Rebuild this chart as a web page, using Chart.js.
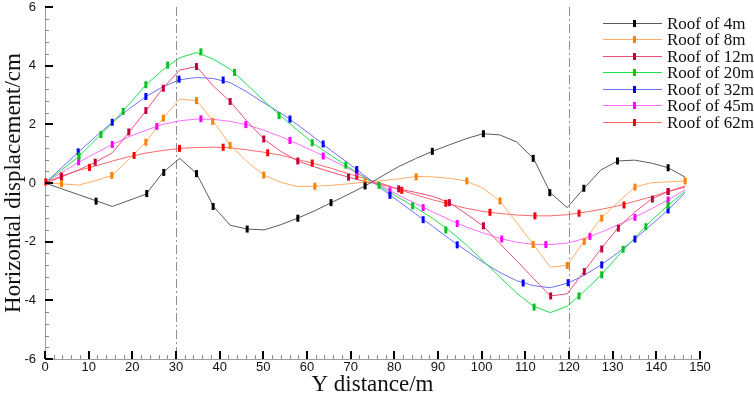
<!DOCTYPE html>
<html lang="en">
<head>
<meta charset="utf-8">
<title>Horizontal displacement</title>
<script src="https://cdn.jsdelivr.net/npm/chart.js"></script>
<style>
  html, body { margin: 0; padding: 0; background: #fff; }
  #wrap { position: relative; width: 754px; height: 399px; }
</style>
</head>
<body>
<div id="wrap"><canvas id="chart"></canvas></div>
<script>
// measuring points along the Y direction (m)
const xPos = [0, 3.86, 7.72, 11.57, 15.43, 19.29, 23.15, 27.0, 30.86, 34.72, 38.58, 42.43, 46.29,
  50.15, 54.0, 57.86, 61.72, 65.58, 69.43, 73.29, 77.15, 81.0, 84.86, 88.72, 92.58, 96.43,
  100.29, 104.15, 108.0, 111.86, 115.72, 119.58, 123.43, 127.29, 131.15, 135.0, 138.86, 142.72, 146.58];

// horizontal displacement (cm) for each roof thickness
const roof4 = [0, -0.2, -0.4, -0.6, -0.8, -0.59, -0.38, 0.36, 0.84, 0.32, -0.8, -1.44, -1.57,
  -1.6, -1.42, -1.2, -0.95, -0.67, -0.39, -0.1, 0.23, 0.56, 0.83, 1.08, 1.3, 1.51,
  1.68, 1.64, 1.4, 0.84, -0.33, -0.84, -0.18, 0.44, 0.75, 0.78, 0.68, 0.52, 0.2];
const roof8 = [0, -0.03, -0.07, 0.08, 0.26, 0.82, 1.39, 2.21, 2.86, 2.81, 2.1, 1.28, 0.72,
  0.27, 0.02, -0.12, -0.11, -0.08, -0.03, 0.03, 0.08, 0.14, 0.22, 0.21, 0.16, 0.07,
  -0.18, -0.61, -1.35, -2.1, -2.87, -2.81, -1.99, -1.2, -0.67, -0.14, 0.01, 0.04, 0.07];
const roof12 = [0, 0.21, 0.45, 0.71, 1.03, 1.74, 2.47, 3.23, 3.85, 3.97, 3.3, 2.78, 2.1,
  1.5, 1.08, 0.75, 0.55, 0.37, 0.2, 0.05, -0.06, -0.2, -0.32, -0.45, -0.67, -1.05,
  -1.46, -2.06, -2.65, -3.25, -3.85, -3.78, -3.02, -2.25, -1.54, -1.0, -0.55, -0.29, -0.14];
const roof20 = [0, 0.45, 0.9, 1.47, 2.05, 2.69, 3.35, 3.86, 4.27, 4.45, 4.22, 3.88, 3.35,
  2.8, 2.28, 1.8, 1.32, 0.93, 0.55, 0.17, -0.15, -0.5, -0.83, -1.2, -1.62, -2.1,
  -2.65, -3.2, -3.75, -4.2, -4.42, -4.2, -3.7, -3.15, -2.5, -1.88, -1.28, -0.76, -0.28];
const roof32 = [0, 0.53, 1.06, 1.58, 2.07, 2.53, 2.95, 3.28, 3.52, 3.6, 3.56, 3.42, 3.1,
  2.73, 2.38, 1.98, 1.55, 1.1, 0.68, 0.24, -0.2, -0.63, -1.05, -1.47, -1.9, -2.3,
  -2.7, -3.05, -3.33, -3.5, -3.57, -3.42, -3.15, -2.8, -2.38, -1.92, -1.42, -0.92, -0.33];
const roof45 = [0, 0.36, 0.71, 1.02, 1.31, 1.58, 1.8, 2.0, 2.12, 2.18, 2.17, 2.1, 1.98,
  1.8, 1.58, 1.33, 1.07, 0.79, 0.5, 0.2, -0.1, -0.42, -0.7, -0.98, -1.25, -1.5,
  -1.7, -1.89, -2.02, -2.09, -2.1, -2.05, -1.9, -1.68, -1.43, -1.17, -0.88, -0.58, -0.22];
const roof62 = [0, 0.24, 0.43, 0.58, 0.75, 0.9, 1.02, 1.11, 1.18, 1.21, 1.22, 1.2, 1.13,
  1.05, 0.95, 0.8, 0.66, 0.5, 0.32, 0.15, -0.02, -0.22, -0.4, -0.57, -0.72, -0.86,
  -0.97, -1.04, -1.09, -1.12, -1.12, -1.08, -1.0, -0.9, -0.78, -0.63, -0.47, -0.29, -0.1];

// symbol positions as they appear on each curve [x, y]
const marks4 = [[11.7, -0.62], [23.3, -0.36], [27.2, 0.36], [34.7, 0.32], [38.5, -0.8], [46.3, -1.57],
  [57.9, -1.2], [65.5, -0.67], [73.3, -0.1], [88.7, 1.08], [100.4, 1.68], [111.8, 0.84],
  [115.6, -0.33], [123.4, -0.18], [131.1, 0.75], [142.7, 0.52]];
const marks8 = [[3.8, -0.02], [15.3, 0.26], [23.1, 1.39], [27.1, 2.21], [34.7, 2.81], [38.4, 2.1],
  [42.4, 1.28], [50.1, 0.27], [61.8, -0.11], [73.3, 0.03], [85.0, 0.21], [96.6, 0.07],
  [104.2, -0.61], [111.8, -2.1], [119.6, -2.81], [123.5, -1.99], [127.5, -1.2], [135.1, -0.14], [146.6, 0.07]];
const marks12 = [[3.8, 0.21], [11.5, 0.71], [19.2, 1.74], [23.1, 2.47], [27.1, 3.23], [34.7, 3.97],
  [42.4, 2.78], [50.1, 1.5], [57.9, 0.75], [69.5, 0.2], [81.0, -0.2], [92.6, -0.67],
  [100.4, -1.46], [115.8, -3.85], [123.5, -3.02], [127.5, -2.25], [131.3, -1.54], [139.1, -0.55], [142.7, -0.29]];
const marks20 = [[7.8, 0.92], [12.8, 1.65], [17.9, 2.44], [23.1, 3.35], [28.1, 4.02], [35.7, 4.47],
  [43.4, 3.77], [53.6, 2.3], [61.2, 1.37], [68.9, 0.61], [76.5, -0.08], [84.2, -0.78],
  [91.8, -1.6], [112.0, -4.23], [122.3, -3.85], [127.5, -3.13], [132.4, -2.26], [137.6, -1.49], [142.7, -0.76]];
const marks32 = [[7.6, 1.06], [15.4, 2.07], [23.1, 2.95], [30.7, 3.54], [40.8, 3.51], [56.1, 2.18],
  [63.7, 1.33], [71.4, 0.46], [79.0, -0.42], [86.6, -1.25], [94.4, -2.11], [109.5, -3.41],
  [119.8, -3.4], [127.5, -2.79], [135.1, -1.91], [142.7, -0.92]];
const marks45 = [[7.7, 0.72], [15.4, 1.31], [25.6, 1.93], [35.7, 2.19], [46.0, 1.99], [56.1, 1.45],
  [63.7, 0.92], [71.4, 0.35], [79.0, -0.27], [86.6, -0.84], [94.4, -1.38], [104.6, -1.91],
  [114.7, -2.1], [124.8, -1.82], [135.1, -1.17], [142.7, -0.58]];
const marks62 = [[0.2, 0.04], [3.7, 0.24], [10.2, 0.53], [20.4, 0.94], [30.8, 1.18], [40.8, 1.22],
  [51.0, 1.03], [61.2, 0.68], [71.4, 0.24], [81.7, -0.25], [91.8, -0.69], [101.9, -1.0],
  [112.2, -1.12], [122.3, -1.03], [132.6, -0.75], [142.7, -0.29]];

const seriesNames = ['Roof of 4m', 'Roof of 8m', 'Roof of 12m', 'Roof of 20m', 'Roof of 32m', 'Roof of 45m', 'Roof of 62m'];
const guideLines = [30, 120];

const seriesValues = [roof4, roof8, roof12, roof20, roof32, roof45, roof62];
const seriesMarks = [marks4, marks8, marks12, marks20, marks32, marks45, marks62];
const lineColors = ['#5a5a5a', '#ffac66', '#ea4f7c', '#1fe04a', '#6f6fff', '#ff6cff', '#ff6868'];
const markColors = ['#000000', '#ff7f00', '#c4003c', '#00c41c', '#0000ff', '#ff00ff', '#ff0000'];

const tickFont = { family: "'Liberation Sans', Arial, sans-serif", size: 13 };
const titleFont = { family: "'Liberation Serif', 'Times New Roman', serif", size: 23 };

const datasets = [];
seriesNames.forEach((name, i) => {
  datasets.push({
    label: name,
    data: xPos.map((x, k) => ({ x: x, y: seriesValues[i][k] })),
    borderColor: lineColors[i],
    borderWidth: 1,
    pointRadius: 0,
    tension: 0,
    order: 2
  });
  datasets.push({
    label: name + ' symbols',
    data: seriesMarks[i].map(p => ({ x: p[0], y: p[1] })),
    showLine: false,
    pointStyle: 'line',
    rotation: 90,
    pointRadius: 3.5,
    pointBorderWidth: 3,
    pointBorderColor: markColors[i],
    pointBackgroundColor: markColors[i],
    clip: false,
    order: 1
  });
});

// dash-dot guide lines at 30 m and 120 m
const guides = {
  id: 'guides',
  beforeDatasetsDraw(chart) {
    const { ctx, chartArea: a, scales: { x } } = chart;
    ctx.save();
    ctx.strokeStyle = '#8f8f8f';
    ctx.lineWidth = 1;
    ctx.setLineDash([9, 3, 2, 3]);
    guideLines.forEach(v => {
      const px = Math.round(x.getPixelForValue(v)) + 0.5;
      ctx.beginPath();
      ctx.moveTo(px, a.top);
      ctx.lineTo(px, a.bottom);
      ctx.stroke();
    });
    ctx.restore();
  }
};

// inward major / minor tick marks
const tickMarks = {
  id: 'tickMarks',
  afterDatasetsDraw(chart) {
    const { ctx, chartArea: a, scales: { x, y } } = chart;
    ctx.save();
    for (let k = 0; k <= 75; k++) {
      const major = k % 5 === 0;
      const px = Math.round(x.getPixelForValue(k * 2));
      ctx.strokeStyle = major ? '#000' : '#8a8a8a';
      ctx.lineWidth = major ? 2 : 1;
      const off = major ? 0 : 0.5;
      ctx.beginPath();
      ctx.moveTo(px + off, a.bottom);
      ctx.lineTo(px + off, a.bottom - (major ? 8 : 4));
      ctx.stroke();
    }
    for (let k = -15; k <= 15; k++) {
      const major = k % 5 === 0;
      const py = Math.round(y.getPixelForValue(k * 0.4));
      ctx.strokeStyle = major ? '#000' : '#8a8a8a';
      ctx.lineWidth = major ? 2 : 1;
      const off = major ? 0 : 0.5;
      ctx.beginPath();
      ctx.moveTo(a.left, py + off);
      ctx.lineTo(a.left + (major ? 8 : 4), py + off);
      ctx.stroke();
    }
    ctx.restore();
  }
};

// legend in the upper right corner, line with a symbol in the middle
const cornerLegend = {
  id: 'cornerLegend',
  afterDraw(chart) {
    const ctx = chart.ctx;
    const x0 = chart.width - 151;
    ctx.save();
    ctx.font = "17px 'Liberation Serif', 'Times New Roman', serif";
    ctx.textBaseline = 'alphabetic';
    seriesNames.forEach((name, i) => {
      const yy = Math.round(22.7 + i * 16.55);
      ctx.strokeStyle = lineColors[i];
      ctx.lineWidth = 1;
      ctx.beginPath();
      ctx.moveTo(x0, yy + 0.5);
      ctx.lineTo(x0 + 59, yy + 0.5);
      ctx.stroke();
      ctx.fillStyle = markColors[i];
      ctx.fillRect(x0 + 30, yy - 3, 3, 7);
      ctx.fillStyle = '#111';
      ctx.fillText(name, x0 + 64, yy + 6);
    });
    ctx.restore();
  }
};

new Chart(document.getElementById('chart'), {
  type: 'line',
  data: { datasets: datasets },
  plugins: [guides, tickMarks, cornerLegend],
  options: {
    responsive: true,
    maintainAspectRatio: false,
    animation: false,
    events: [],
    layout: { padding: { left: 0, right: 54, top: 5, bottom: 0 } },
    plugins: { legend: { display: false }, tooltip: { enabled: false } },
    scales: {
      x: {
        type: 'linear',
        min: 0,
        max: 150,
        grid: { display: false, drawTicks: false },
        border: { display: true, color: '#9c9c9c', width: 1 },
        ticks: { stepSize: 10, font: tickFont, color: '#111', padding: 1, maxRotation: 0, autoSkip: false },
        title: { display: true, text: 'Y distance/m', font: titleFont, color: '#111', padding: { top: 0, bottom: 0 } },
        afterFit(s) { s.height = 40; s.paddingLeft = 0; s.paddingRight = 0; }
      },
      y: {
        type: 'linear',
        min: -6,
        max: 6,
        grid: { display: false, drawTicks: false },
        border: { display: true, color: '#9c9c9c', width: 1 },
        ticks: { stepSize: 2, font: tickFont, color: '#111', padding: 9 },
        title: { display: true, text: 'Horizontal displacement/cm', font: titleFont, color: '#111', padding: 0 },
        afterFit(s) { s.width = 45; s.paddingTop = 0; s.paddingBottom = 0; }
      }
    }
  }
});
</script>
</body>
</html>
